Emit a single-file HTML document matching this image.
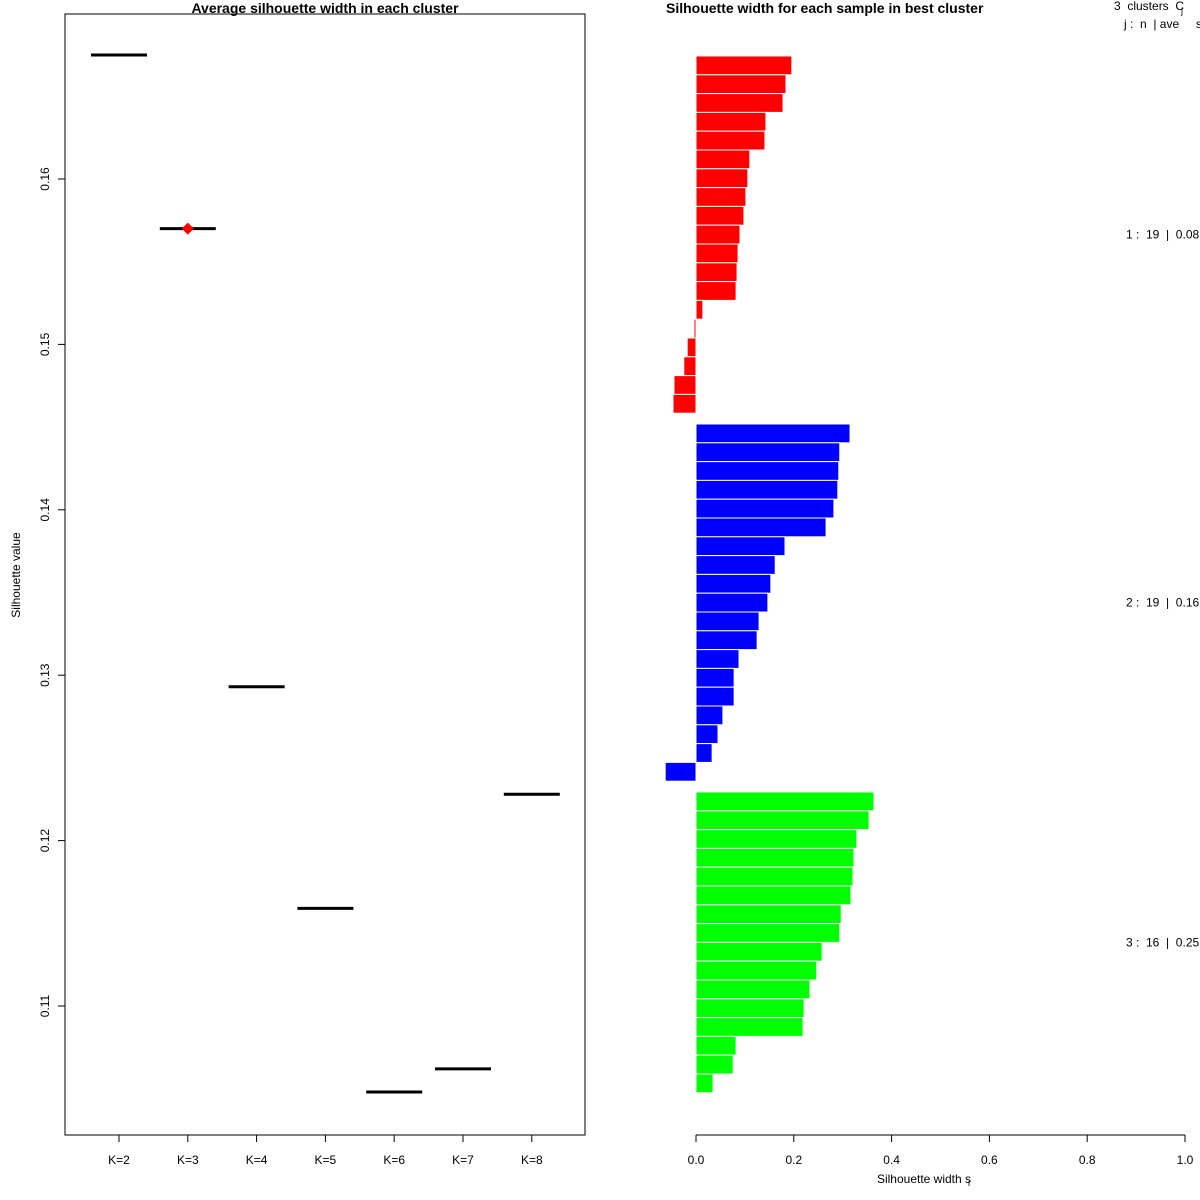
<!DOCTYPE html>
<html><head><meta charset="utf-8"><style>
body{margin:0;background:#fff}
svg{display:block;font-family:"Liberation Sans",sans-serif}
text{white-space:pre}
</style></head><body>
<svg id="c" width="1200" height="1200">
<g id="left"></g>
<g id="right"></g>
</svg>
<script>
const kLabels=["K=2","K=3","K=4","K=5","K=6","K=7","K=8"];
const kValues=[0.1675,0.1570,0.1293,0.1159,0.1048,0.1062,0.1228];
const bestK=1;
const yTicks=[0.11,0.12,0.13,0.14,0.15,0.16];
const red=[0.196,0.184,0.178,0.143,0.141,0.110,0.106,0.102,0.098,0.090,0.086,0.084,0.082,0.014,-0.004,-0.018,-0.025,-0.045,-0.047];
const blue=[0.315,0.294,0.292,0.290,0.282,0.266,0.182,0.162,0.153,0.147,0.129,0.125,0.088,0.078,0.078,0.055,0.045,0.033,-0.063];
const green=[0.364,0.354,0.329,0.323,0.321,0.317,0.297,0.294,0.258,0.247,0.233,0.221,0.219,0.082,0.076,0.035];
const clusterLabels=["1 :  19  |  0.08","2 :  19  |  0.16","3 :  16  |  0.25"];
const xTicks=[0,0.2,0.4,0.6,0.8,1.0];
const NS="http://www.w3.org/2000/svg";
function mk(p,t,a,txt){const e=document.createElementNS(NS,t);for(const k in a)e.setAttribute(k,a[k]);if(txt!=null)e.textContent=txt;p.appendChild(e);return e;}
// left
const L=document.getElementById('left');
const ly=v=>179+(0.16-v)*16540;
const lx=i=>119+i*68.8;
let e=mk(L,'rect',{x:65,y:14,width:520,height:1121,fill:'none',stroke:'#000'});

e=mk(L,'text',{x:325,y:13,'text-anchor':'middle','font-size':14,'font-weight':'bold'},'Average silhouette width in each cluster');

e=mk(L,'text',{x:20,y:575,'text-anchor':'middle','font-size':12,transform:'rotate(-90 20 575)'},'Silhouette value');

yTicks.forEach(v=>{const y=ly(v);mk(L,'line',{x1:58,x2:65,y1:y,y2:y,stroke:'#000'});
e=mk(L,'text',{x:49,y:y,'text-anchor':'middle','font-size':12,transform:`rotate(-90 49 ${y})`},v.toFixed(2));
});
kLabels.forEach((k,i)=>{const x=lx(i);mk(L,'line',{x1:x,x2:x,y1:1135,y2:1142,stroke:'#000'});
e=mk(L,'text',{x:x,y:1164,'text-anchor':'middle','font-size':12},k);

e=mk(L,'line',{x1:x-28,x2:x+28,y1:ly(kValues[i]),y2:ly(kValues[i]),stroke:'#000','stroke-width':3});
});
const bx=lx(bestK),by=ly(kValues[bestK]);
e=mk(L,'polygon',{points:`${bx},${by-6} ${bx+6},${by} ${bx},${by+6} ${bx-6},${by}`,fill:'#f00'});

// right
const R=document.getElementById('right');
const rx=v=>696+v*489;
e=mk(R,'text',{x:666,y:13,'font-size':14,'font-weight':'bold'},'Silhouette width for each sample in best cluster');

e=mk(R,'text',{x:1114,y:10,'font-size':12},'3  clusters  C');
mk(R,'text',{x:1181,y:14,'font-size':9},'j');
e=mk(R,'text',{x:1124,y:28,'font-size':12},'j :  n  | ave     s');
const groups=[[red,'#ff0000',56],[blue,'#0000ff',424],[green,'#00ff00',792]];
const pitch=18.8;
groups.forEach(([vals,col,top],g)=>{vals.forEach((v,i)=>{const x0=rx(0),x1=rx(v);
e=mk(R,'rect',{x:Math.min(x0,x1),y:top+i*pitch,width:Math.abs(x1-x0),height:pitch,fill:col,stroke:'#fff','stroke-width':1});
});
const mid=top+vals.length*pitch/2;
e=mk(R,'text',{x:1126,y:mid+4,'font-size':12},clusterLabels[g]);
});
mk(R,'line',{x1:rx(0),x2:rx(1),y1:1135,y2:1135,stroke:'#000'});
xTicks.forEach(v=>{const x=rx(v);mk(R,'line',{x1:x,x2:x,y1:1135,y2:1142,stroke:'#000'});
e=mk(R,'text',{x:x,y:1164,'text-anchor':'middle','font-size':12},v.toFixed(1));
});
e=mk(R,'text',{x:924,y:1183,'text-anchor':'middle','font-size':12},'Silhouette width s');

mk(R,'text',{x:968,y:1186,'font-size':9},'i');
</script>
</body></html>
